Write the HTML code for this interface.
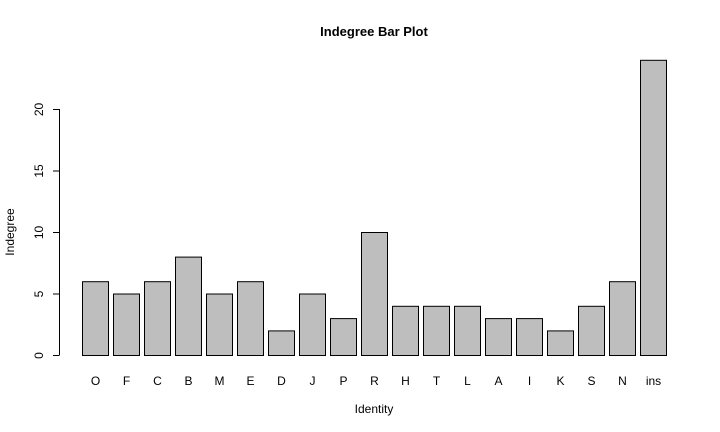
<!DOCTYPE html>
<html><head><meta charset="utf-8"><style>
body{margin:0;background:#fff;}
svg{display:block;font-family:"Liberation Sans",Arial,sans-serif;}
</style></head><body>
<svg id="chart" width="720" height="432" viewBox="0 0 720 432">
<rect width="720" height="432" fill="#fff"/>
<text x="374" y="36" text-anchor="middle" font-weight="bold" font-size="13">Indegree Bar Plot</text>
<text x="374" y="413" text-anchor="middle" font-size="12">Identity</text>
<text transform="translate(14,232) rotate(-90)" text-anchor="middle" font-size="12">Indegree</text>
<g id="bars"></g><g id="yaxis"></g><g id="xlabels"></g>
</svg>
<script>
const categories=["O","F","C","B","M","E","D","J","P","R","H","T","L","A","I","K","S","N","ins"];
const values=[6,5,6,8,5,6,2,5,3,10,4,4,4,3,3,2,4,6,24];
const yTicks=[0,5,10,15,20];
const NS="http://www.w3.org/2000/svg";
function y(v){return 355-v*12.3;}
function xl(i){return 82+31*i;}
const bw=26;
function mk(t,a,p){const e=document.createElementNS(NS,t);for(const k in a)e.setAttribute(k,a[k]);p.appendChild(e);return e;}
const bars=document.getElementById('bars'),xg=document.getElementById('xlabels'),yg=document.getElementById('yaxis');
values.forEach((v,i)=>{
 const r=mk('rect',{x:xl(i)+0.5,y:y(v)+0.5,width:bw,height:y(0)-y(v),fill:'#bebebe',stroke:'#000','stroke-width':1},bars);
 
 
 const t=mk('text',{x:xl(i)+bw/2+0.5,y:385,'text-anchor':'middle','font-size':12},xg);
 t.textContent=categories[i];
 
 
});
const al=mk('line',{x1:59.5,x2:59.5,y1:y(yTicks[yTicks.length-1]),y2:y(0),stroke:'#000'},yg);


yTicks.forEach(v=>{
 const l=mk('line',{x1:53,x2:59.5,y1:y(v)+0.5,y2:y(v)+0.5,stroke:'#000'},yg);
 
 
 const t=mk('text',{transform:'translate(43,'+(y(v)+0.5)+') rotate(-90)','text-anchor':'middle','font-size':12},yg);
 t.textContent=v;
 
 
});
</script>
</body></html>
